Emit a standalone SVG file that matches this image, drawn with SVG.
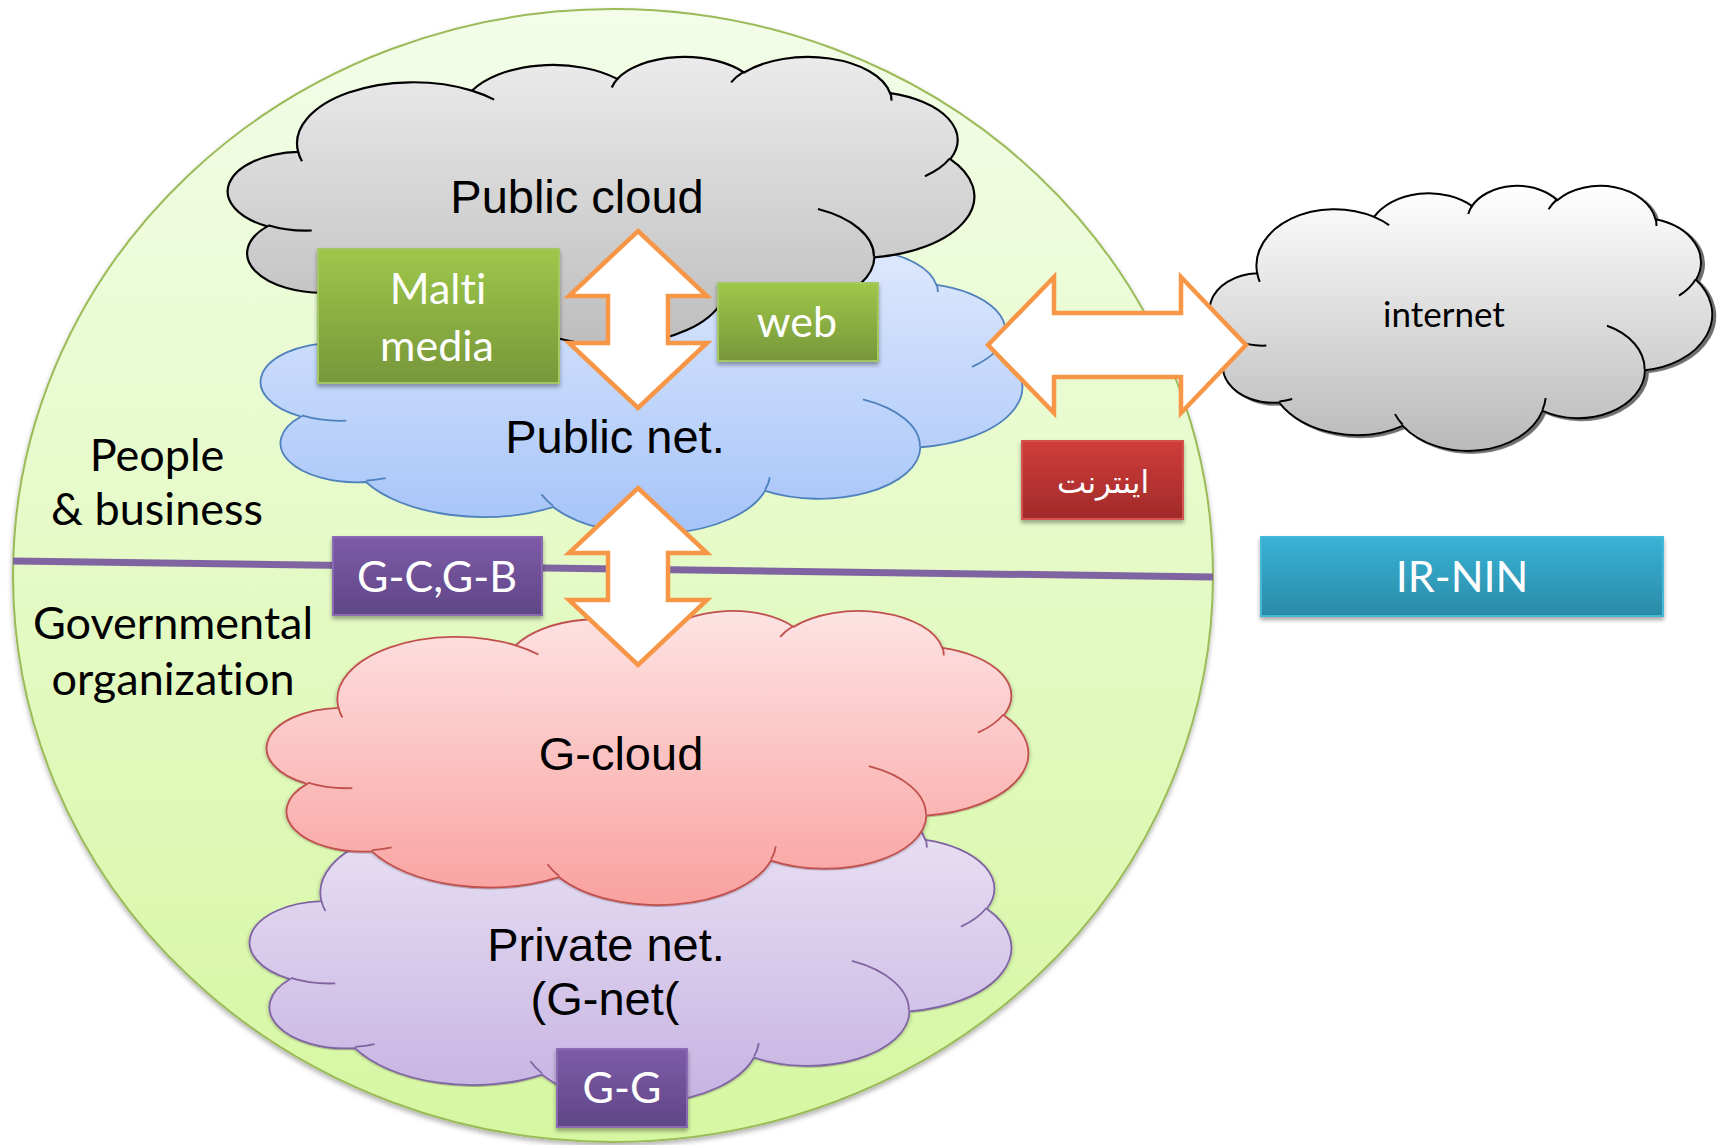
<svg xmlns="http://www.w3.org/2000/svg" width="1718" height="1145" viewBox="0 0 1718 1145">
<style>
.cal{font-family:Lato,"Open Sans","DejaVu Sans",sans-serif;font-variant-ligatures:none;}
.ari{font-family:"Liberation Sans",Arial,sans-serif;font-size:47px;fill:#000;text-anchor:middle;}
.wt{fill:#fff;text-anchor:middle;font-size:43px;}
.bk{fill:#000;text-anchor:middle;font-size:45px;}
.arrow{fill:#fff;stroke:#f79646;stroke-width:4.5;stroke-linejoin:miter;}
.box{stroke-width:2;filter:url(#boxShadow);}
</style>
<defs>
 <linearGradient id="gEll" x1="0" y1="0" x2="0" y2="1"><stop offset="0" stop-color="#f3fde9"/><stop offset="1" stop-color="#d6f7a2"/></linearGradient>
 <linearGradient id="gGrey" x1="0" y1="0" x2="0" y2="1"><stop offset="0" stop-color="#ebebeb"/><stop offset="1" stop-color="#bdbdbd"/></linearGradient>
 <linearGradient id="gBlue" x1="0" y1="0" x2="0" y2="1"><stop offset="0" stop-color="#dde8fc"/><stop offset="1" stop-color="#a6c4f9"/></linearGradient>
 <linearGradient id="gPink" x1="0" y1="0" x2="0" y2="1"><stop offset="0" stop-color="#fde3e3"/><stop offset="1" stop-color="#f9a19f"/></linearGradient>
 <linearGradient id="gLav" x1="0" y1="0" x2="0" y2="1"><stop offset="0" stop-color="#ebe4f5"/><stop offset="1" stop-color="#c6b3e2"/></linearGradient>
 <linearGradient id="gNet" x1="0" y1="0" x2="0" y2="1"><stop offset="0" stop-color="#ffffff"/><stop offset="1" stop-color="#b9b9b9"/></linearGradient>
 <linearGradient id="gGreen" x1="0" y1="0" x2="0" y2="1"><stop offset="0" stop-color="#9ec74a"/><stop offset="1" stop-color="#77973a"/></linearGradient>
 <linearGradient id="gPurple" x1="0" y1="0" x2="0" y2="1"><stop offset="0" stop-color="#7e5ba8"/><stop offset="1" stop-color="#5f4686"/></linearGradient>
 <linearGradient id="gRed" x1="0" y1="0" x2="0" y2="1"><stop offset="0" stop-color="#d03d3a"/><stop offset="1" stop-color="#a02a29"/></linearGradient>
 <linearGradient id="gTeal" x1="0" y1="0" x2="0" y2="1"><stop offset="0" stop-color="#38b3d6"/><stop offset="1" stop-color="#2a8aa6"/></linearGradient>
 <filter id="boxShadow" x="-10%" y="-10%" width="130%" height="140%"><feDropShadow dx="0" dy="3" stdDeviation="2" flood-color="#000" flood-opacity="0.35"/></filter>
 <filter id="softShadow" x="-5%" y="-5%" width="110%" height="115%"><feDropShadow dx="0" dy="3" stdDeviation="2.5" flood-color="#000" flood-opacity="0.3"/></filter>
 <filter id="netShadow" x="-5%" y="-5%" width="115%" height="120%"><feDropShadow dx="6" dy="7" stdDeviation="1.5" flood-color="#4a4a4a" flood-opacity="0.8"/></filter>
 <path id="cloud" vector-effect="non-scaling-stroke" d="M90.3 332.6 A156.3 212.7 0 0 1 324.2 120.4 A123.5 168.2 0 0 1 519.9 79.5 A101.0 137.6 0 0 1 690.6 57.4 A112.4 152.7 0 0 1 887.0 129.1 A123.5 168.4 0 0 1 968.1 357.9 A156.8 213.4 0 0 1 865.9 699.1 A133.9 182.1 0 0 1 661.0 852.2 A156.3 213.3 0 0 1 381.5 908.9 A178.7 244.1 0 0 1 134.4 821.1 A100.9 137.0 0 0 1 48.9 591.5 A100.6 137.6 0 0 1 90.3 332.6 Z"/>
 <path id="cloudArcs" vector-effect="non-scaling-stroke" fill="none" d="M108.6 605.9 A100.6 137.6 0 0 1 50.0 587.5 M160.4 807.8 A100.9 137.0 0 0 1 134.7 816.7 M381.4 904.9 A156.3 213.3 0 0 1 366.0 864.6 M667.3 804.4 A156.3 213.3 0 0 1 661.1 848.6 M790.0 531.3 A133.9 182.1 0 0 1 865.3 696.5 M967.5 355.4 A123.5 168.4 0 0 1 934.0 417.3 M887.1 125.6 A112.4 152.7 0 0 1 888.9 154.9 M673.1 91.5 A112.4 152.7 0 0 1 690.3 54.2 M512.5 109.3 A101.0 137.6 0 0 1 520.8 77.1 M324.1 120.2 A156.3 212.7 0 0 1 354.2 151.5 M95.5 365.5 A156.3 212.7 0 0 1 90.3 332.7"/>
</defs>

<rect width="1718" height="1145" fill="#ffffff"/>

<g id="domain">
 <ellipse cx="613" cy="575.5" rx="600" ry="566.5" fill="url(#gEll)" stroke="#9bbb59" stroke-width="2" filter="url(#softShadow)"/>
 <line x1="13" y1="561" x2="1213" y2="577" stroke="#8064a2" stroke-width="7"/>
 <text class="cal bk" x="157" y="471">People</text>
 <text class="cal bk" x="157" y="525">&amp; business</text>
 <text class="cal bk" x="173" y="639">Governmental</text>
 <text class="cal bk" x="173" y="695">organization</text>
</g>

<g id="public-net">
 <use href="#cloud" transform="translate(264,248) scale(0.758,0.285)" fill="url(#gBlue)" stroke="#4f81bd" stroke-width="1.8"/>
 <use href="#cloudArcs" transform="translate(264,248) scale(0.758,0.285)" stroke="#4f81bd" stroke-width="1.8"/>
 <text class="ari" x="615" y="453">Public net.</text>
</g>

<g id="public-cloud">
 <use href="#cloud" transform="translate(231,56) scale(0.743,0.288)" fill="url(#gGrey)" stroke="#000" stroke-width="2.2"/>
 <use href="#cloudArcs" transform="translate(231,56) scale(0.743,0.288)" stroke="#000" stroke-width="2.2"/>
 <text class="ari" x="577" y="213">Public cloud</text>
</g>

<g id="private-net">
 <use href="#cloud" transform="translate(253,801) scale(0.758,0.301)" fill="url(#gLav)" stroke="#8064a2" stroke-width="1.8" filter="url(#softShadow)"/>
 <use href="#cloudArcs" transform="translate(253,801) scale(0.758,0.301)" stroke="#8064a2" stroke-width="1.8"/>
 <text class="ari" x="606" y="961">Private net.</text>
 <text class="ari" x="605" y="1015">(G-net(</text>
</g>

<g id="g-cloud">
 <use href="#cloud" transform="translate(270,610) scale(0.758,0.294)" fill="url(#gPink)" stroke="#c0504d" stroke-width="1.8" filter="url(#softShadow)"/>
 <use href="#cloudArcs" transform="translate(270,610) scale(0.758,0.294)" stroke="#c0504d" stroke-width="1.8"/>
 <text class="ari" x="621" y="770">G-cloud</text>
</g>

<g id="internet">
 <use href="#cloud" transform="translate(1212,185) scale(0.500,0.265)" fill="url(#gNet)" stroke="#000" stroke-width="2" filter="url(#netShadow)"/>
 <use href="#cloudArcs" transform="translate(1212,185) scale(0.500,0.265)" stroke="#000" stroke-width="2"/>
 <text class="cal" x="1444" y="327" font-size="35" fill="#000" text-anchor="middle">internet</text>
</g>

<g id="malti-media">
 <rect class="box" x="318" y="249" width="241" height="134" fill="url(#gGreen)" stroke="#a3c763"/>
 <text class="cal wt" x="438" y="304">Malti</text>
 <text class="cal wt" x="437" y="361">media</text>
</g>

<g id="web">
 <rect class="box" x="718" y="283" width="160" height="78" fill="url(#gGreen)" stroke="#a3c763"/>
 <text class="cal wt" x="797" y="337">web</text>
</g>

<g id="gcgb">
 <rect class="box" x="333" y="537" width="209" height="78" fill="url(#gPurple)" stroke="#8a6bb3"/>
 <text class="cal wt" x="437" y="592">G-C,G-B</text>
</g>

<g id="gg">
 <rect class="box" x="557" y="1049" width="130" height="78" fill="url(#gPurple)" stroke="#8a6bb3"/>
 <text class="cal wt" x="622" y="1103">G-G</text>
</g>

<g id="internet-fa">
 <rect class="box" x="1022" y="441" width="161" height="78" fill="url(#gRed)" stroke="#d4524f"/>
 <text x="1103" y="493" font-family="'DejaVu Sans',sans-serif" font-size="31" fill="#fff" text-anchor="middle">اینترنت</text>
</g>

<g id="ir-nin">
 <rect class="box" x="1261" y="537" width="402" height="79" fill="url(#gTeal)" stroke="#45b8d8"/>
 <text class="cal wt" x="1462" y="592">IR-NIN</text>
</g>

<g id="connectors">
 <path class="arrow" d="M638 231 L707 296 L668 296 L668 343 L707 343 L638 408 L569 343 L608 343 L608 296 L569 296 Z"/>
 <path class="arrow" d="M638 488 L707 553 L668 553 L668 600 L707 600 L638 665 L569 600 L608 600 L608 553 L569 553 Z"/>
 <path class="arrow" d="M988 345 L1054 277 L1054 313 L1181 313 L1181 277 L1246 345 L1181 413 L1181 377 L1054 377 L1054 413 Z"/>
</g>
</svg>
